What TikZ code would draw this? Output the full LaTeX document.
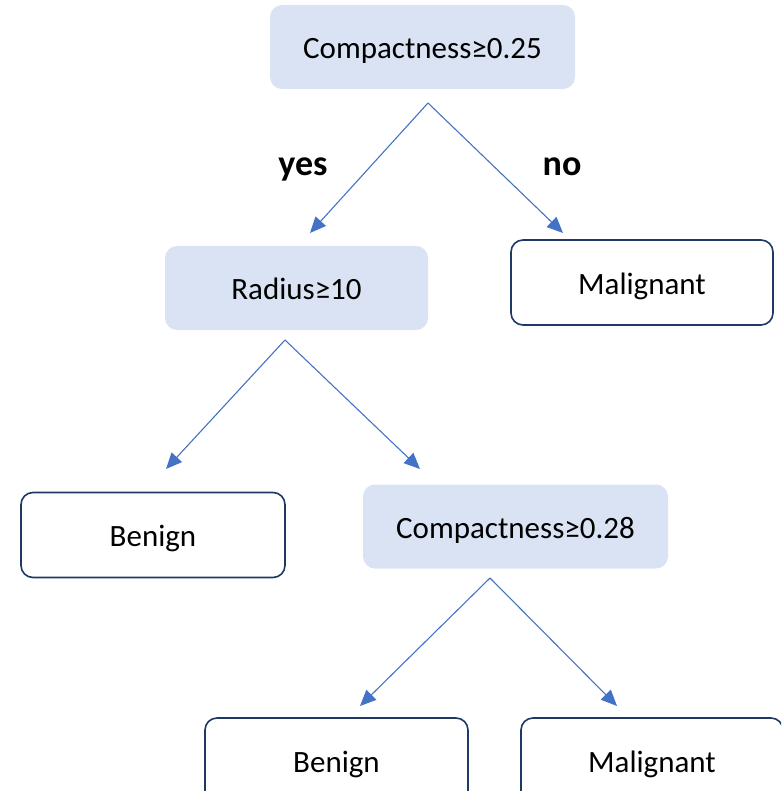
\documentclass[tikz,border=0pt]{standalone}
\usepackage{fontspec}
\setmainfont{Carlito}
\usetikzlibrary{arrows.meta}
\definecolor{testfill}{RGB}{218,227,243}
\definecolor{leafline}{RGB}{32,56,100}
\definecolor{edgeblue}{RGB}{68,114,196}
\tikzset{
  testbox/.style={draw=none, fill=testfill, rounded corners=12pt,
    minimum width=#1, minimum height=84pt, inner sep=0pt,
    text height=26pt, text depth=3pt,
    font=\fontsize{31}{37}\selectfont},
  leafbox/.style={draw=leafline, line width=1.6pt, fill=white, rounded corners=12pt,
    minimum width=#1, minimum height=85pt, inner sep=0pt,
    text height=26pt, text depth=3pt,
    font=\fontsize{31}{37}\selectfont},
  branch/.style={draw=edgeblue, line width=1.1pt,
    -{Triangle[length=16pt, width=14pt]}, color=edgeblue},
  answer/.style={font=\fontsize{36}{42}\selectfont\bfseries, anchor=base}
}
\begin{document}
\begin{tikzpicture}[x=1pt, y=-1pt]
  \useasboundingbox (0,0) rectangle (781,791);
  \clip (0,0) rectangle (781,791);

  % decision nodes
  \node[testbox=305pt] (root) at (422.5,47) {Compactness≥0.25};
  \node[testbox=263pt] (radius) at (296.5,288) {Radius≥10};
  \node[testbox=305pt] (comp) at (515.5,526.5) {Compactness≥0.28};

  % leaves
  \node[leafbox=262pt] (mal1) at (642,282.5) {Malignant};
  \node[leafbox=264pt] (ben1) at (153,535) {Benign};
  \node[leafbox=263pt] (ben2) at (336.5,760.5) {Benign};
  \node[leafbox=262pt] (mal2) at (652,760.5) {Malignant};

  % branch points and arrow tips
  \coordinate (rootfork) at (428,103);
  \coordinate (yestip) at (310,233);
  \coordinate (notip) at (563,233);
  \coordinate (radfork) at (285,340);
  \coordinate (radltip) at (166,469);
  \coordinate (radrtip) at (420,469);
  \coordinate (compfork) at (490,578);
  \coordinate (compltip) at (360,706);
  \coordinate (comprtip) at (617,706);

  \draw[branch] (rootfork) -- (yestip);
  \draw[branch] (rootfork) -- (notip);
  \draw[branch] (radfork) -- (radltip);
  \draw[branch] (radfork) -- (radrtip);
  \draw[branch] (compfork) -- (compltip);
  \draw[branch] (compfork) -- (comprtip);

  % branch labels
  \node[answer] (yes) at (303,176) {yes};
  \node[answer] (no) at (562,176) {no};
\end{tikzpicture}
\end{document}
